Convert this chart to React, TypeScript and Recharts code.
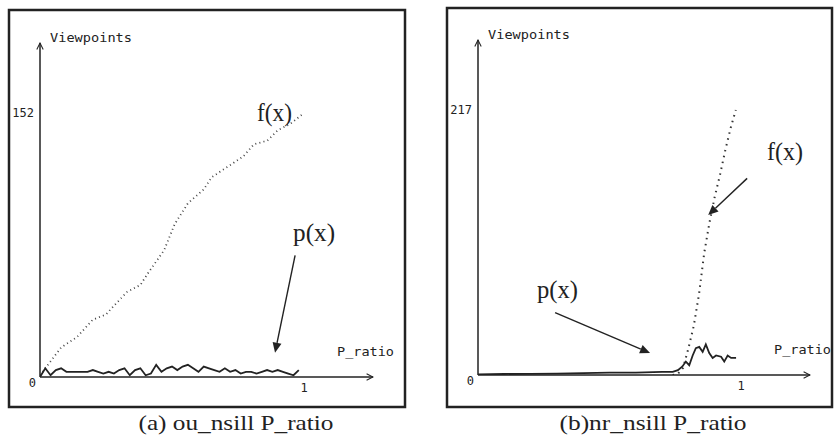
import React from 'react';
import { LineChart, Line, XAxis, YAxis, ReferenceLine, ReferenceDot } from 'recharts';

// ---- Panel (a): ou_nsill P_ratio ----
const fLeftX = [0, 0.03, 0.08, 0.14, 0.2, 0.25, 0.28, 0.33, 0.38, 0.41, 0.47, 0.51, 0.56, 0.62, 0.65, 0.71, 0.77, 0.81, 0.86, 0.9, 0.95, 1.0];
const fLeftY = [1, 7, 17, 23, 33, 36, 41, 49, 53, 60, 73, 88, 100, 108, 115, 121, 127, 134, 136, 142, 146, 152];

const pLeftX = [0, 0.02, 0.04, 0.06, 0.08, 0.1, 0.12, 0.14, 0.16, 0.18, 0.2, 0.22, 0.24, 0.26, 0.28, 0.3, 0.32, 0.34, 0.36, 0.38, 0.4, 0.42, 0.44, 0.46, 0.48, 0.5, 0.52, 0.54, 0.56, 0.58, 0.6, 0.62, 0.64, 0.66, 0.68, 0.7, 0.72, 0.74, 0.76, 0.78, 0.8, 0.82, 0.84, 0.86, 0.88, 0.9, 0.92, 0.94, 0.96, 0.98];
const pLeftY = [0, 5, 1, 4, 5, 3, 3, 3, 3, 3, 4, 3, 2, 3, 2, 4, 5, 1, 4, 5, 1, 2, 7, 3, 5, 6, 4, 6, 7, 5, 3, 6, 5, 4, 3, 5, 3, 4, 2, 3, 3, 2, 3, 4, 3, 4, 3, 2, 1, 4];

// ---- Panel (b): nr_nsill P_ratio ----
const fRightX = [0.74, 0.76, 0.78, 0.8, 0.82, 0.84, 0.86, 0.88, 0.9, 0.92, 0.94, 0.96, 0.98];
const fRightY = [0, 1, 6, 22, 40, 66, 100, 125, 146, 164, 184, 202, 217];

const pRightX = [0, 0.1, 0.2, 0.3, 0.4, 0.5, 0.6, 0.7, 0.74, 0.76, 0.777, 0.79, 0.803, 0.816, 0.828, 0.841, 0.854, 0.866, 0.879, 0.892, 0.905, 0.924, 0.936, 0.949, 0.962, 0.981];
const pRightY = [0.5, 0.8, 1, 1.2, 1.5, 2, 2, 2.5, 2.5, 4, 7, 11, 8, 16, 22, 23, 19, 25, 18, 14, 16, 15, 11, 16, 14, 14];

const leftYTicks = [0, 152];
const rightYTicks = [0, 217];
const xTicks = [1];

const toData = (xs: number[], ys: number[]) => xs.map((x, i) => ({ x, y: ys[i] }));

const MONO = '"DejaVu Sans Mono", monospace';
const SERIF = '"Liberation Serif", "Times New Roman", serif';
const INK = '#222';

const YTick = (props: any) => {
  const { x, y, payload } = props;
  const zero = payload.value === 0;
  return (
    <text x={x + (zero ? 2 : 0)} y={y} dy={zero ? 10 : 4.5} textAnchor="end" fontFamily={MONO} fontSize={12} fill={INK}>
      {payload.value}
    </text>
  );
};

const XTick = (props: any) => {
  const { x, y, payload } = props;
  return (
    <text x={x} y={y} dy={15} textAnchor="middle" fontFamily={MONO} fontSize={12} fill={INK}>
      {payload.value}
    </text>
  );
};

const yLabel = (props: any) => {
  const vb = props.viewBox || {};
  return (
    <text x={vb.x + vb.width + 10} y={vb.y - 1.5} fontFamily={MONO} fontSize={11.5} fill={INK} textLength={82} lengthAdjust="spacingAndGlyphs">
      Viewpoints
    </text>
  );
};

const xLabel = (props: any) => {
  const vb = props.viewBox || {};
  return (
    <text x={vb.x + vb.width - 36} y={vb.y - 21} fontFamily={MONO} fontSize={11.5} fill={INK} textLength={57} lengthAdjust="spacingAndGlyphs">
      P_ratio
    </text>
  );
};

const ArrowShape = (props: any) => {
  const { x1, y1, x2, y2 } = props;
  const dx = x2 - x1;
  const dy = y2 - y1;
  const len = Math.hypot(dx, dy) || 1;
  const ux = dx / len;
  const uy = dy / len;
  const hl = 10;
  const hw = 4.5;
  const bx = x2 - ux * hl;
  const by = y2 - uy * hl;
  const px = -uy;
  const py = ux;
  return (
    <g>
      <line x1={x1} y1={y1} x2={bx} y2={by} stroke={INK} strokeWidth={1.4} />
      <polygon points={`${x2},${y2} ${bx + px * hw},${by + py * hw} ${bx - px * hw},${by - py * hw}`} fill={INK} />
    </g>
  );
};

const textShape = (label: string, width: number) => (props: any) => (
  <text x={props.cx} y={props.cy} dy={8} textAnchor="middle" fontFamily={SERIF} fontSize={25} fill={INK} textLength={width} lengthAdjust="spacingAndGlyphs">
    {label}
  </text>
);

const arrowMarker = (id: string) => (
  <defs>
    <marker id={id} viewBox="0 0 10 10" refX={9} refY={5} markerWidth={8} markerHeight={8} markerUnits="userSpaceOnUse" orient="auto-start-reverse">
      <path d="M1,1 L9,5 L1,9" fill="none" stroke={INK} strokeWidth={1.3} />
    </marker>
  </defs>
);

const W = 417;
const H = 435;

function LeftPanel() {
  return (
    <LineChart width={W} height={H} margin={{ top: 43, left: 39, right: 44, bottom: 57 }}>
      {arrowMarker('arrA')}
      <rect x={9} y={10} width={396} height={397} fill="none" stroke={INK} strokeWidth={2.5} />
      <text x={236} y={430} textAnchor="middle" fontFamily={SERIF} fontSize={21} fill={INK} textLength={195} lengthAdjust="spacingAndGlyphs">
        (a) ou_nsill P_ratio
      </text>
      <XAxis type="number" dataKey="x" domain={[0, 1.261]} allowDataOverflow ticks={xTicks} interval={0} height={1} tickSize={0} tickMargin={0} tickLine={false}
        tick={<XTick />} axisLine={{ stroke: INK, strokeWidth: 1.5, markerEnd: 'url(#arrA)' }} label={xLabel} />
      <YAxis type="number" domain={[0, 192.3]} allowDataOverflow ticks={leftYTicks} interval={0} width={1} tickSize={0} tickMargin={6} tickLine={false}
        tick={<YTick />} axisLine={{ stroke: INK, strokeWidth: 1.5, markerStart: 'url(#arrA)' }} label={yLabel} />
      <Line data={toData(fLeftX, fLeftY)} dataKey="y" type="linear" stroke="#444" strokeWidth={1.8} strokeDasharray="1 3.2" dot={false} isAnimationActive={false} />
      <Line data={toData(pLeftX, pLeftY)} dataKey="y" type="linear" stroke={INK} strokeWidth={1.8} dot={false} isAnimationActive={false} />
      <ReferenceLine segment={[{ x: 0.966, y: 70 }, { x: 0.89, y: 14 }]} ifOverflow="visible" shape={ArrowShape} />
      <ReferenceDot x={0.888} y={152} r={0} ifOverflow="visible" shape={textShape('f(x)', 35)} />
      <ReferenceDot x={1.038} y={83} r={0} ifOverflow="visible" shape={textShape('p(x)', 42)} />
    </LineChart>
  );
}

function RightPanel() {
  return (
    <LineChart width={W} height={H} margin={{ top: 40, left: 59, right: 25, bottom: 59 }}>
      {arrowMarker('arrB')}
      <rect x={29} y={8} width={385} height={399} fill="none" stroke={INK} strokeWidth={2.5} />
      <text x={235} y={430} textAnchor="middle" fontFamily={SERIF} fontSize={21} fill={INK} textLength={187} lengthAdjust="spacingAndGlyphs">
        (b)nr_nsill P_ratio
      </text>
      <XAxis type="number" dataKey="x" domain={[0, 1.262]} allowDataOverflow ticks={xTicks} interval={0} height={1} tickSize={0} tickMargin={0} tickLine={false}
        tick={<XTick />} axisLine={{ stroke: INK, strokeWidth: 1.5, markerEnd: 'url(#arrB)' }} label={xLabel} />
      <YAxis type="number" domain={[0, 274.3]} allowDataOverflow ticks={rightYTicks} interval={0} width={1} tickSize={0} tickMargin={6} tickLine={false}
        tick={<YTick />} axisLine={{ stroke: INK, strokeWidth: 1.5, markerStart: 'url(#arrB)' }} label={yLabel} />
      <Line data={toData(fRightX, fRightY)} dataKey="y" type="linear" stroke="#333" strokeWidth={2} strokeDasharray="1.5 4.5" dot={false} isAnimationActive={false} />
      <Line data={toData(pRightX, pRightY)} dataKey="y" type="linear" stroke={INK} strokeWidth={1.8} dot={false} isAnimationActive={false} />
      <ReferenceLine segment={[{ x: 1.023, y: 161 }, { x: 0.875, y: 131 }]} ifOverflow="visible" shape={ArrowShape} />
      <ReferenceLine segment={[{ x: 0.293, y: 51 }, { x: 0.654, y: 18 }]} ifOverflow="visible" shape={ArrowShape} />
      <ReferenceDot x={1.167} y={183} r={0} ifOverflow="visible" shape={textShape('f(x)', 36)} />
      <ReferenceDot x={0.302} y={70} r={0} ifOverflow="visible" shape={textShape('p(x)', 41)} />
    </LineChart>
  );
}

export default function App() {
  return (
    <div style={{ position: 'absolute', left: 0, top: 0, width: 835, height: 435, background: '#fff', overflow: 'hidden' }}>
      <div style={{ position: 'absolute', left: 0, top: 0 }}>
        <LeftPanel />
      </div>
      <div style={{ position: 'absolute', left: 418, top: 0 }}>
        <RightPanel />
      </div>
    </div>
  );
}
